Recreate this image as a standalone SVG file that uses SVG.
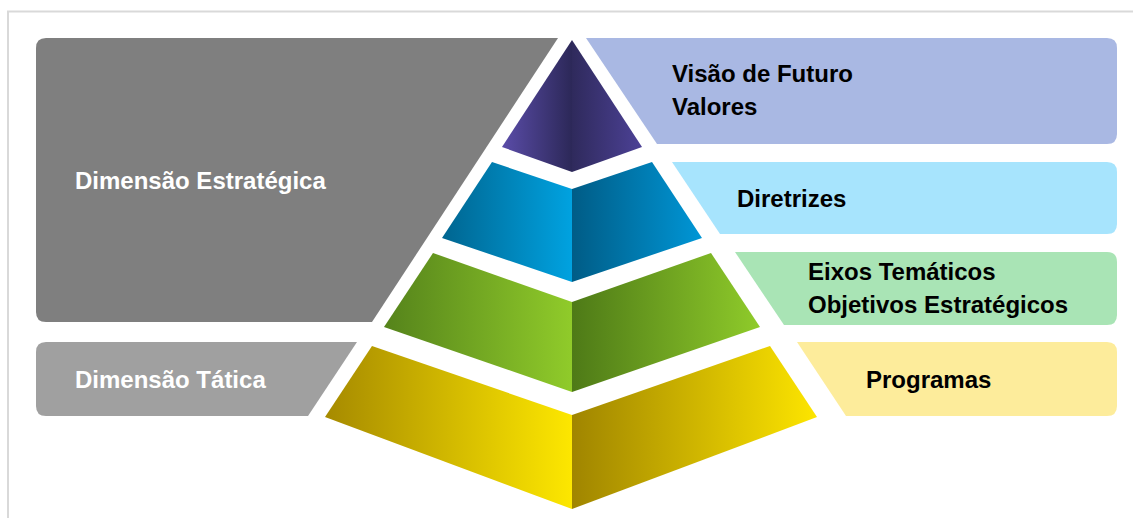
<svg xmlns="http://www.w3.org/2000/svg" width="1133" height="518" viewBox="0 0 1133 518">
<defs>
<style>
.lbl{font-family:"Liberation Sans",Arial,sans-serif;font-weight:bold;font-size:24px}
.w{fill:#ffffff}
.k{fill:#000000}
</style>
<linearGradient id="pL" x1="0" y1="0" x2="1" y2="0"><stop offset="0" stop-color="#5a4ca8"/><stop offset="1" stop-color="#2c2858"/></linearGradient>
<linearGradient id="pR" x1="0" y1="0" x2="1" y2="0"><stop offset="0" stop-color="#2f2a5c"/><stop offset="1" stop-color="#4c4196"/></linearGradient>
<linearGradient id="bL" x1="0" y1="0" x2="1" y2="0"><stop offset="0" stop-color="#006590"/><stop offset="1" stop-color="#00a2e0"/></linearGradient>
<linearGradient id="bR" x1="0" y1="0" x2="1" y2="0"><stop offset="0" stop-color="#005c86"/><stop offset="1" stop-color="#0096d6"/></linearGradient>
<linearGradient id="gL" x1="0" y1="0" x2="1" y2="0"><stop offset="0" stop-color="#55831b"/><stop offset="1" stop-color="#90cb2a"/></linearGradient>
<linearGradient id="gR" x1="0" y1="0" x2="1" y2="0"><stop offset="0" stop-color="#4e7a17"/><stop offset="1" stop-color="#8fcb2a"/></linearGradient>
<linearGradient id="yL" x1="0" y1="0" x2="1" y2="0"><stop offset="0" stop-color="#a68a00"/><stop offset="1" stop-color="#fde700"/></linearGradient>
<linearGradient id="yR" x1="0" y1="0" x2="1" y2="0"><stop offset="0" stop-color="#a08500"/><stop offset="1" stop-color="#fde500"/></linearGradient>
</defs>
<rect x="0" y="0" width="1133" height="518" fill="#ffffff"/>
<rect x="8" y="11.5" width="1200" height="600" fill="none" stroke="#d9d9d9" stroke-width="2"/>

<g id="dim-estrategica">
<path d="M46,38 H558 L372,322 H46 Q36,322 36,312 V48 Q36,38 46,38 Z" fill="#7f7f7f"/>
<text class="lbl w" x="75" y="189">Dimensão Estratégica</text>
</g>
<g id="dim-tatica">
<path d="M46,342 H357 L308,416 H46 Q36,416 36,406 V352 Q36,342 46,342 Z" fill="#a0a0a0"/>
<text class="lbl w" x="75" y="388">Dimensão Tática</text>
</g>

<g id="box-visao">
<path d="M586,38 H1107 Q1117,38 1117,48 V134 Q1117,144 1107,144 H657 Z" fill="#a9b8e3"/>
<text class="lbl k" x="672" y="82">Visão de Futuro</text>
<text class="lbl k" x="672" y="115">Valores</text>
</g>
<g id="box-diretrizes">
<path d="M672,162 H1107 Q1117,162 1117,172 V224 Q1117,234 1107,234 H720 Z" fill="#a7e4fd"/>
<text class="lbl k" x="737" y="207">Diretrizes</text>
</g>
<g id="box-eixos">
<path d="M735,252 H1107 Q1117,252 1117,262 V315 Q1117,325 1107,325 H784 Z" fill="#a9e4b5"/>
<text class="lbl k" x="808" y="280">Eixos Temáticos</text>
<text class="lbl k" x="808" y="313">Objetivos Estratégicos</text>
</g>
<g id="box-programas">
<path d="M797,342 H1107 Q1117,342 1117,352 V406 Q1117,416 1107,416 H846 Z" fill="#fdec9b"/>
<text class="lbl k" x="866" y="388">Programas</text>
</g>

<g id="tier-purple">
<path d="M572,40 L502,147 L572,172 Z" fill="url(#pL)"/>
<path d="M572,40 L642,147 L572,172 Z" fill="url(#pR)"/>
</g>
<g id="tier-blue">
<path d="M492,162 L572,189 L572,282 L442,238 Z" fill="url(#bL)"/>
<path d="M572,189 L652,162 L702,238 L572,282 Z" fill="url(#bR)"/>
</g>
<g id="tier-green">
<path d="M433,253 L572,302 L572,392 L384,327 Z" fill="url(#gL)"/>
<path d="M572,302 L711,253 L760,327 L572,392 Z" fill="url(#gR)"/>
</g>
<g id="tier-yellow">
<path d="M372,346 L572,415 L572,509 L325,417 Z" fill="url(#yL)"/>
<path d="M572,415 L770,346 L817,417 L572,509 Z" fill="url(#yR)"/>
</g>
<g id="connectors"/>
</svg>
